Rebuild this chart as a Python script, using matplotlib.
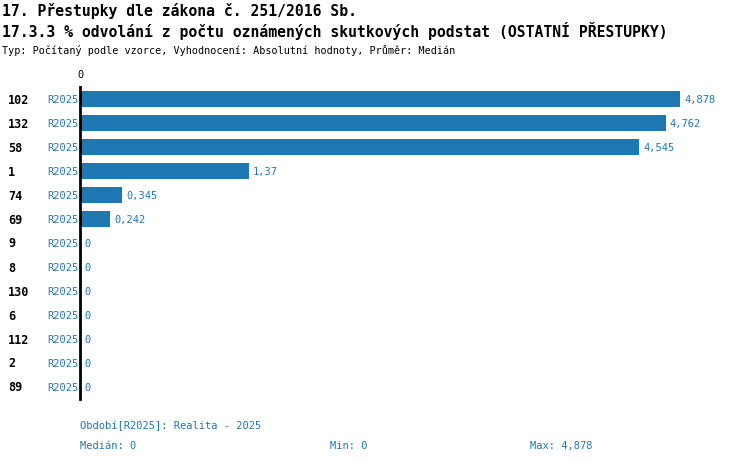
import matplotlib
matplotlib.use("Agg")
import matplotlib.pyplot as plt
from matplotlib.transforms import blended_transform_factory

categories = ["102", "132", "58", "1", "74", "69", "9", "8", "130", "6", "112", "2", "89"]
values = [4.878, 4.762, 4.545, 1.37, 0.345, 0.242, 0, 0, 0, 0, 0, 0, 0]
labels = ["4,878", "4,762", "4,545", "1,37", "0,345", "0,242", "0", "0", "0", "0", "0", "0", "0"]
series = "R2025"

plt.rcParams['font.family'] = ['DejaVu Sans Mono']
blue = "#1f77b4"
W, H = 750, 464
fig = plt.figure(figsize=(7.5, 4.64), dpi=100)
ax = fig.add_axes([80 / W, 64 / H, 600 / W, 312 / H])
ys = list(range(len(categories)))
ax.barh(ys, values, height=16 / 24, color=blue)
ax.set_xlim(0, max(values))
ax.set_ylim(len(categories) - 0.5, -0.5)
for s in ["top", "right", "bottom"]:
    ax.spines[s].set_visible(False)
ax.spines["left"].set_linewidth(2)
ax.set_xticks([])
ax.set_yticks([])
tr = blended_transform_factory(fig.transFigure, ax.transData)
for y, c, v, l in zip(ys, categories, values, labels):
    ax.annotate(l, (v, y), xytext=(3, 0), textcoords="offset points",
                va="center", ha="left", fontsize=7.5, color=blue)
    ax.text(78 / W, y, series, va="center", ha="right", fontsize=7.5, color=blue, transform=tr)
    ax.text(8 / W, y, c, va="center", ha="left", fontsize=8.5, fontweight="bold", transform=tr)
ax.text(0, -0.85, "0", ha="center", va="bottom", fontsize=7.5)

fig.text(2 / W, 1 - 11 / H, "17. Přestupky dle zákona č. 251/2016 Sb.", fontsize=10.6, fontweight="bold", va="center")
fig.text(2 / W, 1 - 31 / H, "17.3.3 % odvolání z počtu oznámených skutkových podstat (OSTATNÍ PŘESTUPKY)", fontsize=10.6, fontweight="bold", va="center")
fig.text(2 / W, 1 - 50 / H, "Typ: Počítaný podle vzorce, Vyhodnocení: Absolutní hodnoty, Průměr: Medián", fontsize=7.3, va="center")
fig.text(80 / W, 1 - 426 / H, "Období[R2025]: Realita - 2025", fontsize=7.5, color=blue, va="center")
fig.text(80 / W, 1 - 446 / H, "Medián: 0", fontsize=7.5, color=blue, va="center")
fig.text(330 / W, 1 - 446 / H, "Min: 0", fontsize=7.5, color=blue, va="center")
fig.text(530 / W, 1 - 446 / H, "Max: 4,878", fontsize=7.5, color=blue, va="center")
fig.savefig("out.png", dpi=100)
